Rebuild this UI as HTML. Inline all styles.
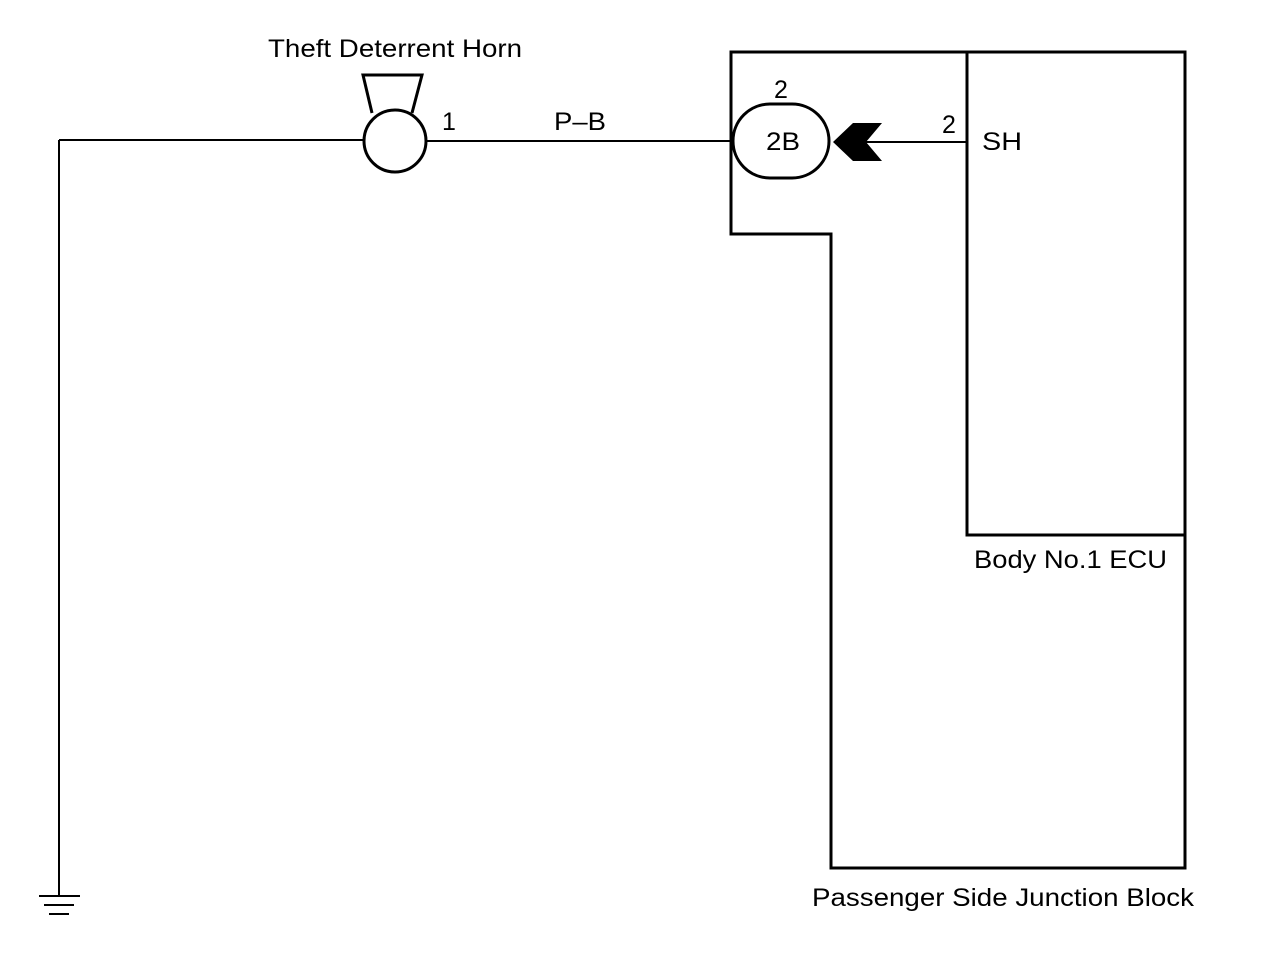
<!DOCTYPE html>
<html><head><style>
html,body{margin:0;padding:0;background:#fff;}
svg{display:block;}
text{font-family:"Liberation Sans",Arial,sans-serif;font-size:25px;fill:#000;}
</style></head><body>
<svg width="1280" height="968" viewBox="0 0 1280 968" xmlns="http://www.w3.org/2000/svg">
<g stroke="#000" fill="none">
<path d="M59 140 H364" stroke-width="2"/>
<path d="M59 140 V896" stroke-width="2"/>
<path d="M39 896 H80 M44 905 H74 M49 914 H69" stroke-width="2"/>
<circle cx="395" cy="141" r="31" stroke-width="3"/>
<path d="M372 113 L363 75 H422 L412 113" stroke-width="3"/>
<path d="M426 141 H733" stroke-width="2"/>
<path d="M731 52 H1185 V868 H831 V234 H731 Z" stroke-width="3"/>
<path d="M967 52 V535 H1185" stroke-width="3"/>
<rect x="733" y="104" width="96" height="74" rx="37" ry="37" stroke-width="3"/>
<path d="M866 142 H967" stroke-width="2"/>
</g>
<polygon points="833,142 853,123 882,123 866,142 882,161 853,161" fill="#000"/>
<text x="268" y="57" textLength="254" lengthAdjust="spacingAndGlyphs">Theft Deterrent Horn</text>
<text x="442" y="130">1</text>
<text x="554" y="130" textLength="52" lengthAdjust="spacingAndGlyphs">P–B</text>
<text x="774" y="98">2</text>
<text x="766" y="150" textLength="34" lengthAdjust="spacingAndGlyphs">2B</text>
<text x="942" y="133">2</text>
<text x="982" y="150" textLength="40" lengthAdjust="spacingAndGlyphs">SH</text>
<text x="974" y="568" textLength="193" lengthAdjust="spacingAndGlyphs">Body No.1 ECU</text>
<text x="812" y="906" textLength="382" lengthAdjust="spacingAndGlyphs">Passenger Side Junction Block</text>
</svg>
</body></html>
